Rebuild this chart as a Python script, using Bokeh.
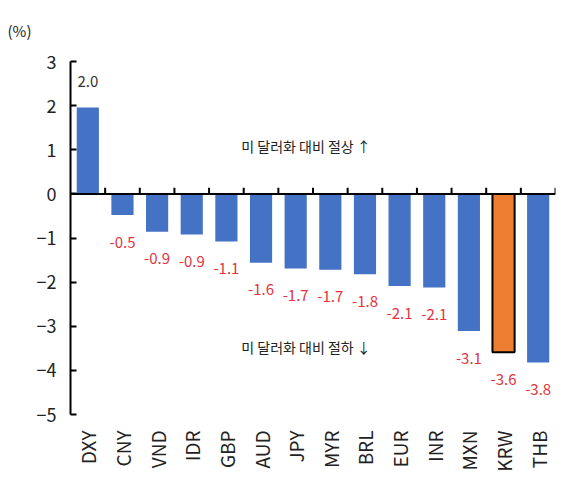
import numpy as np
from bokeh.plotting import figure
from bokeh.models import ColumnDataSource, Range1d, FixedTicker, Span, Label
from bokeh.embed import file_html
from bokeh.resources import INLINE

# currencies and their change vs USD (%)
currencies = ["DXY", "CNY", "VND", "IDR", "GBP", "AUD", "JPY",
              "MYR", "BRL", "EUR", "INR", "MXN", "KRW", "THB"]
changes = [1.96, -0.48, -0.86, -0.92, -1.08, -1.56, -1.69,
           -1.72, -1.82, -2.09, -2.12, -3.11, -3.59, -3.82]
highlight = "KRW"
y_ticks = [3, 2, 1, 0, -1, -2, -3, -4, -5]

FONT = "Noto Sans CJK KR"
BLUE = "#4472C4"
ORANGE = "#ED7D31"
RED = "#E5323B"

n = len(currencies)
xs = np.arange(n) + 0.5

p = figure(width=559, height=476, output_backend="svg", toolbar_location=None,
           x_range=Range1d(0, n), y_range=Range1d(-5, 3),
           min_border_left=70, min_border_right=4, min_border_top=61, min_border_bottom=62)
p.outline_line_color = None
p.grid.grid_line_color = None
p.background_fill_color = "white"

# unit note at top-left
p.title.text = "(%)"
p.title.align = "left"
p.title.vertical_align = "top"
p.title.offset = -63
p.title.standoff = 37
p.title.text_font = FONT
p.title.text_font_size = "15px"
p.title.text_font_style = "normal"
p.title.text_color = "#222222"

# bars
colors = [ORANGE if c == highlight else BLUE for c in currencies]
lines = ["black" if c == highlight else None for c in currencies]
src = ColumnDataSource(dict(x=xs, top=changes, color=colors, line=lines,
                            label=["%.1f" % v for v in changes],
                            label_color=["#333333" if v > 0 else RED for v in changes],
                            off=[-26 if v > 0 else 27 for v in changes]))
p.vbar(x="x", top="top", bottom=0, width=0.64, fill_color="color", line_color="line",
       line_width=2, source=src)

# value labels
p.text(x="x", y="top", text="label", text_color="label_color", y_offset="off",
       text_align="center", text_baseline="middle", text_font_size="15px",
       text_font={"value": FONT}, source=src)

# zero line with small inner ticks between categories
p.add_layout(Span(location=0, dimension="width", line_color="black", line_width=2))
bounds = np.arange(1, n + 1)
p.segment(x0=bounds, y0=0, x1=bounds, y1=0.14, line_color="black", line_width=2)

# y axis
p.yaxis.ticker = FixedTicker(ticks=y_ticks)
p.yaxis.axis_line_width = 2
p.yaxis.axis_line_color = "black"
p.yaxis.major_tick_in = 6
p.yaxis.major_tick_out = 0
p.yaxis.major_tick_line_width = 2
p.yaxis.minor_tick_line_color = None
p.yaxis.major_label_standoff = 14
p.yaxis.major_label_text_font_size = "18px"
p.yaxis.major_label_text_font = FONT
p.yaxis.major_label_text_color = "#222222"

# x axis: category names only
p.xaxis.ticker = FixedTicker(ticks=list(xs))
p.xaxis.major_label_overrides = {float(x): c for x, c in zip(xs, currencies)}
p.xaxis.major_label_orientation = np.pi / 2
p.xaxis.axis_line_color = None
p.xaxis.major_tick_line_color = None
p.xaxis.minor_tick_line_color = None
p.xaxis.major_label_standoff = 10
p.xaxis.major_label_text_font_size = "19px"
p.xaxis.major_label_text_font = FONT
p.xaxis.major_label_text_color = "#222222"

# annotations
p.add_layout(Label(x=6.8, y=1.08, text="미 달러화 대비 절상 ↑", text_align="center",
                   text_baseline="middle", text_font_size="14px", text_font=FONT,
                   text_color="#222222"))
p.add_layout(Label(x=6.8, y=-3.48, text="미 달러화 대비 절하 ↓", text_align="center",
                   text_baseline="middle", text_font_size="14px", text_font=FONT,
                   text_color="#222222"))

open("out.html", "w").write(file_html(p, INLINE))
